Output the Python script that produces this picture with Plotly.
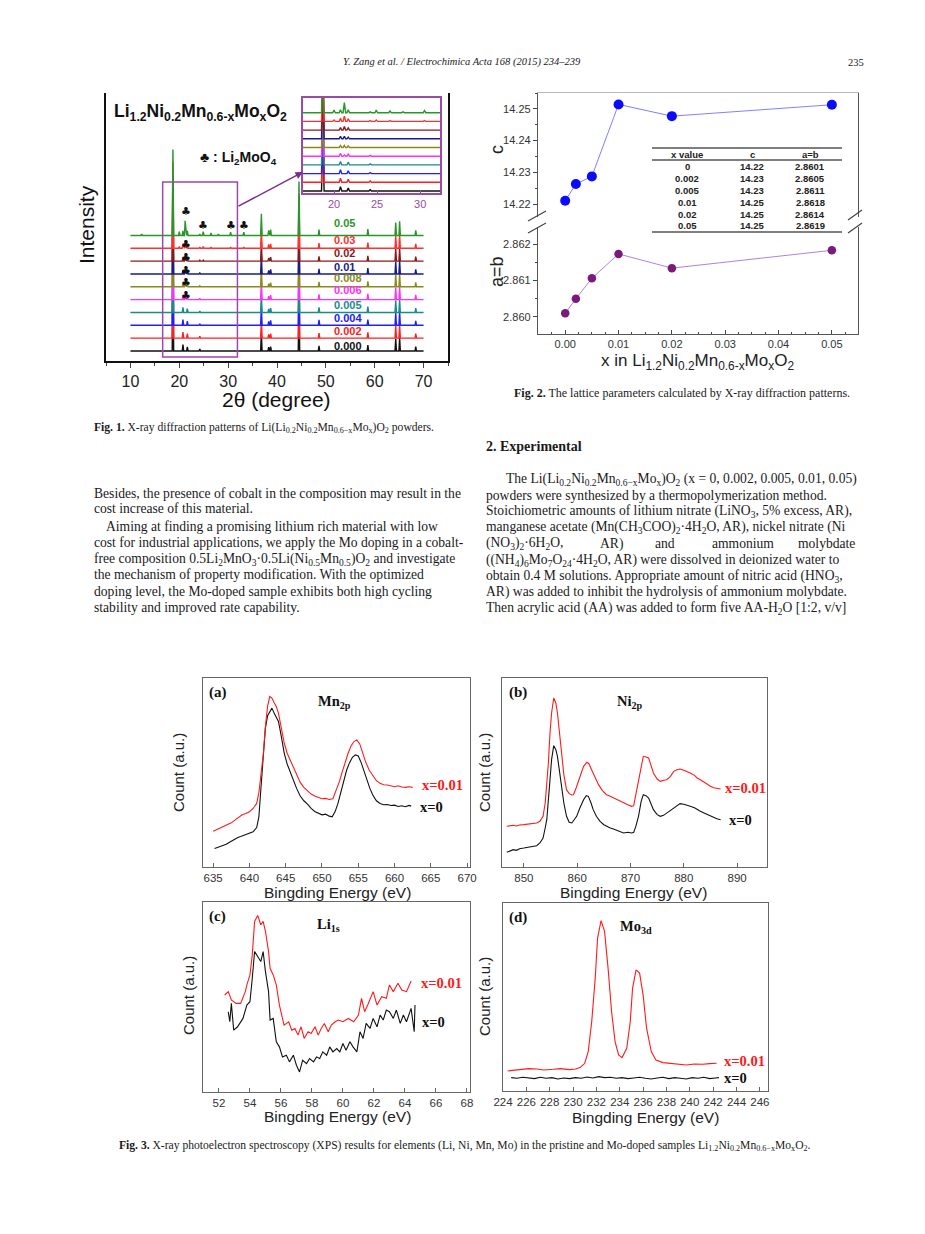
import plotly.graph_objects as go

# the page body adds an 8 px margin; the figure is sized/placed to compensate
OFF = 8
W, H = 925 - OFF, 1234 - OFF


def px(x):
    return (x - OFF) / W


def py(y):
    return 1 - (y - OFF) / H


# ======================= DATA =======================
# ---- Fig. 1 : XRD patterns (peak positions / heights, in units of the stacking step)
xrd_labels = ["0.000", "0.002", "0.004", "0.005", "0.006", "0.008", "0.01", "0.02", "0.03", "0.05"]
xrd_peak_2theta = [12.3, 18.7, 20.0, 20.75, 21.2, 21.65, 24.2, 24.9, 26.5, 28.0, 30.5, 33.2,
                   36.8, 38.3, 38.7, 44.5, 48.6, 58.6, 64.3, 65.1, 68.4]
xrd_h_0000 = [0, 6.7, 0, 0.5, 0, 0.33, 0.15, 0, 0, 0.05, 0, 0, 1.4, 0.3, 0.35, 4.2, 0.4, 0.45, 0.95, 1.0, 0.35]
xrd_h_0002 = [0, 6.7, 0, 0.48, 0, 0.35, 0.15, 0, 0, 0.05, 0, 0, 1.45, 0.3, 0.35, 4.2, 0.4, 0.45, 0.95, 1.0, 0.35]
xrd_h_0004 = [0, 6.7, 0, 0.45, 0, 0.33, 0.12, 0, 0, 0.04, 0, 0, 1.45, 0.3, 0.38, 4.2, 0.42, 0.45, 0.95, 1.05, 0.35]
xrd_h_0005 = [0, 6.7, 0, 0.4, 0, 0.3, 0.12, 0, 0, 0.04, 0, 0, 1.45, 0.28, 0.35, 4.2, 0.4, 0.45, 0.95, 1.0, 0.35]
xrd_h_0006 = [0, 6.7, 0, 0.35, 0.15, 0.25, 0.1, 0, 0, 0, 0, 0, 1.45, 0.28, 0.35, 4.2, 0.42, 0.45, 0.95, 1.0, 0.38]
xrd_h_0008 = [0, 6.7, 0, 0.22, 0.25, 0.18, 0.08, 0, 0, 0, 0, 0, 1.45, 0.25, 0.32, 4.2, 0.38, 0.42, 0.95, 1.0, 0.35]
xrd_h_001 = [0, 6.7, 0, 0.3, 0.3, 0.2, 0.08, 0, 0, 0, 0, 0, 1.5, 0.28, 0.35, 4.2, 0.4, 0.45, 0.95, 1.05, 0.35]
xrd_h_002 = [0, 6.7, 0, 0.3, 0.42, 0.25, 0.08, 0.08, 0, 0, 0, 0, 1.5, 0.25, 0.32, 4.2, 0.38, 0.42, 0.95, 1.0, 0.35]
xrd_h_003 = [0, 6.7, 0.15, 0.35, 0.6, 0.3, 0.1, 0.15, 0.1, 0.05, 0.1, 0.1, 1.55, 0.3, 0.35, 4.2, 0.4, 0.45, 0.95, 1.05, 0.35]
xrd_h_005 = [0.1, 6.7, 0.3, 0.35, 1.15, 0.35, 0.1, 0.3, 0.2, 0.1, 0.25, 0.25, 1.7, 0.4, 0.45, 4.2, 0.45, 0.5, 1.0, 1.1, 0.4]
xrd_heights = [xrd_h_0000, xrd_h_0002, xrd_h_0004, xrd_h_0005, xrd_h_0006,
               xrd_h_0008, xrd_h_001, xrd_h_002, xrd_h_003, xrd_h_005]
xrd_scan_range = [10.0, 70.0]
li2moo4_marks_2theta = [21.3, 24.9, 30.5, 33.2]
xrd_x_ticks = [10, 20, 30, 40, 50, 60, 70]
inset_x_ticks = [20, 25, 30]

# ---- Fig. 2 : lattice parameters
lattice_x = [0, 0.002, 0.005, 0.01, 0.02, 0.05]
lattice_c = [14.2210, 14.2263, 14.2287, 14.2514, 14.2477, 14.2513]
lattice_ab = [2.8601, 2.8605, 2.86106, 2.86173, 2.86134, 2.86183]
table_header = ["x value", "c", "a=b"]
table_x = ["0", "0.002", "0.005", "0.01", "0.02", "0.05"]
table_c = ["14.22", "14.23", "14.23", "14.25", "14.25", "14.25"]
table_ab = ["2.8601", "2.8605", "2.8611", "2.8618", "2.8614", "2.8619"]

# ---- Fig. 3 : XPS spectra (binding energy eV, counts a.u.)
mn2p_x0 = [(635.2, 65), (635.6, 68), (636.0, 72), (636.4, 74), (636.8, 78), (637.2, 83), (637.6, 88),
           (638.0, 94), (638.4, 98), (638.8, 101), (639.2, 104), (639.6, 107), (640.0, 110), (640.5, 115),
           (641.0, 128), (641.3, 160), (641.6, 250), (641.9, 350), (642.2, 425), (642.5, 462), (642.8, 475),
           (643.1, 485), (643.4, 470), (643.7, 455), (644.0, 445), (644.4, 400), (644.8, 350), (645.2, 318),
           (645.6, 295), (646.0, 272), (646.5, 245), (647.0, 222), (647.5, 208), (648.0, 198), (648.5, 185),
           (649.0, 176), (649.5, 170), (650.0, 166), (650.5, 168), (651.0, 162), (651.4, 160), (651.8, 175),
           (652.2, 200), (652.6, 235), (653.0, 270), (653.4, 300), (653.8, 322), (654.2, 338), (654.6, 345),
           (655.0, 342), (655.4, 322), (655.8, 296), (656.2, 268), (656.6, 245), (657.0, 225), (657.5, 208),
           (658.0, 200), (658.5, 196), (659.0, 197), (659.5, 194), (660.0, 195), (660.5, 191), (661.0, 193),
           (661.5, 190), (662.0, 194), (662.3, 192)]
mn2p_x001 = [(635.0, 117), (635.5, 122), (636.0, 126), (636.5, 132), (637.0, 138), (637.5, 142), (638.0, 150),
             (638.5, 158), (639.0, 166), (639.5, 170), (640.0, 175), (640.5, 185), (641.0, 200), (641.3, 232),
             (641.6, 290), (641.9, 345), (642.2, 430), (642.5, 490), (642.8, 520), (643.1, 515), (643.4, 502),
             (643.7, 490), (644.0, 470), (644.4, 422), (644.8, 380), (645.2, 350), (645.6, 330), (646.0, 310),
             (646.5, 285), (647.0, 263), (647.5, 248), (648.0, 238), (648.5, 228), (649.0, 222), (649.5, 217),
             (650.0, 214), (650.5, 215), (651.0, 212), (651.5, 214), (652.0, 240), (652.4, 265), (652.8, 295),
             (653.2, 325), (653.6, 350), (654.0, 372), (654.4, 385), (654.8, 390), (655.2, 378), (655.6, 352),
             (656.0, 325), (656.5, 300), (657.0, 282), (657.5, 268), (658.0, 260), (658.5, 256), (659.0, 255),
             (659.5, 252), (660.0, 250), (660.5, 253), (661.0, 249), (661.5, 248), (662.0, 250), (662.5, 248)]
ni2p_x0 = [(846.8, 52), (847.4, 55), (848.0, 60), (848.6, 58), (849.2, 63), (850.0, 65), (850.8, 67), (851.6, 70),
           (852.4, 72), (853.0, 80), (853.6, 95), (854.0, 125), (854.3, 150), (854.6, 210), (854.9, 270),
           (855.2, 330), (855.6, 372), (856.0, 360), (856.3, 340), (856.7, 290), (857.1, 240), (857.5, 200),
           (858.0, 160), (858.5, 142), (859.0, 140), (859.5, 150), (859.9, 160), (860.5, 185), (861.2, 210),
           (861.7, 222), (862.1, 220), (862.6, 200), (863.0, 180), (863.6, 160), (864.3, 145), (865.0, 135),
           (865.5, 130), (866.2, 125), (866.8, 122), (867.5, 118), (868.0, 113), (868.7, 110), (869.5, 112),
           (870.2, 110), (870.6, 112), (871.0, 130), (871.5, 160), (872.0, 205), (872.4, 225), (872.9, 222),
           (873.4, 215), (873.8, 198), (874.3, 180), (875.0, 165), (875.6, 160), (876.2, 163), (876.8, 170),
           (877.5, 178), (878.1, 185), (878.7, 192), (879.3, 198), (880.0, 196), (880.6, 194), (881.2, 190),
           (882.0, 186), (882.5, 180), (883.1, 175), (883.8, 170), (884.4, 166), (885.0, 160), (885.6, 156),
           (886.2, 153), (886.9, 150)]
ni2p_x001 = [(846.8, 130), (847.4, 132), (848.0, 133), (848.6, 131), (849.2, 134), (850.0, 135), (850.8, 137),
             (851.6, 138), (852.4, 140), (853.0, 145), (853.6, 160), (854.0, 200), (854.3, 250), (854.6, 320),
             (854.9, 410), (855.2, 470), (855.6, 515), (856.0, 500), (856.3, 470), (856.7, 410), (857.1, 340),
             (857.5, 285), (858.0, 240), (858.5, 228), (859.0, 224), (859.3, 225), (859.8, 245), (860.5, 280),
             (861.2, 310), (861.8, 322), (862.2, 318), (862.7, 300), (863.3, 278), (864.0, 255), (864.7, 238),
             (865.5, 225), (866.2, 220), (866.8, 215), (867.5, 210), (868.2, 205), (868.7, 200), (869.5, 195),
             (870.2, 190), (870.6, 192), (871.0, 225), (871.5, 270), (872.0, 315), (872.4, 340), (872.9, 338),
             (873.4, 335), (873.8, 315), (874.3, 290), (875.0, 272), (875.6, 265), (876.2, 268), (876.8, 270),
             (877.5, 280), (878.1, 295), (878.7, 300), (879.3, 302), (880.0, 298), (880.6, 295), (881.2, 290),
             (882.0, 283), (882.5, 275), (883.1, 270), (883.8, 262), (884.4, 256), (885.0, 250), (885.6, 246),
             (886.2, 244), (886.9, 242)]
li1s_x001 = [(52.37, 300), (52.6, 310), (52.8, 285), (53.1, 275), (53.4, 275), (53.7, 310), (53.8, 330),
             (54.0, 360), (54.15, 420), (54.3, 520), (54.5, 538), (54.7, 510), (54.85, 520), (55.0, 490),
             (55.2, 430), (55.3, 380), (55.5, 360), (55.7, 330), (55.9, 270), (56.2, 210), (56.5, 220),
             (56.7, 195), (56.9, 200), (57.1, 180), (57.3, 205), (57.5, 170), (57.75, 190), (57.95, 185),
             (58.2, 205), (58.4, 180), (58.6, 200), (58.8, 215), (59.05, 190), (59.25, 210), (59.5, 220),
             (59.7, 225), (60.0, 220), (60.35, 230), (60.7, 220), (61.0, 240), (61.2, 290), (61.4, 250),
             (61.6, 270), (61.95, 310), (62.2, 270), (62.5, 295), (62.8, 290), (63.0, 330), (63.25, 310),
             (63.55, 335), (63.8, 315), (64.1, 310), (64.4, 342)]
li1s_x0 = [(52.6, 250), (52.7, 220), (52.8, 275), (52.95, 195), (53.2, 205), (53.55, 230), (53.8, 270),
           (54.0, 280), (54.15, 350), (54.3, 430), (54.5, 415), (54.7, 400), (54.85, 430), (55.0, 370),
           (55.2, 310), (55.3, 225), (55.5, 230), (55.7, 160), (55.9, 145), (56.1, 115), (56.35, 120),
           (56.55, 100), (56.8, 120), (57.0, 90), (57.2, 70), (57.4, 105), (57.65, 95), (57.85, 110),
           (58.1, 100), (58.3, 115), (58.5, 110), (58.7, 130), (58.95, 120), (59.15, 145), (59.35, 130),
           (59.6, 140), (59.8, 130), (60.0, 155), (60.2, 135), (60.45, 160), (60.65, 145), (60.9, 130),
           (61.1, 190), (61.3, 170), (61.5, 215), (61.75, 200), (61.95, 230), (62.2, 205), (62.4, 240),
           (62.6, 225), (62.8, 255), (63.0, 250), (63.25, 230), (63.45, 255), (63.7, 215), (63.9, 240),
           (64.1, 220), (64.4, 260), (64.6, 190), (64.65, 270)]
mo3d_x001 = [(224.4, 72), (225.0, 75), (225.4, 76), (226.2, 79), (226.9, 78), (227.5, 75), (228.3, 77),
             (228.9, 79), (229.7, 76), (230.2, 78), (230.6, 82), (231.0, 95), (231.3, 130), (231.6, 220),
             (231.9, 350), (232.1, 470), (232.4, 522), (232.7, 490), (233.0, 380), (233.3, 250), (233.6, 160),
             (233.9, 120), (234.2, 112), (234.6, 140), (234.9, 220), (235.1, 320), (235.4, 375), (235.7, 365),
             (236.0, 300), (236.3, 200), (236.7, 130), (237.1, 105), (237.7, 97), (238.2, 95), (238.6, 93),
             (239.2, 91), (239.7, 90), (240.4, 93), (241.1, 92), (241.7, 94), (242.3, 95)]
mo3d_x0 = [(224.7, 52), (225.2, 50), (225.7, 53), (226.2, 51), (226.7, 49), (227.2, 53), (227.7, 50),
           (228.2, 52), (228.7, 48), (229.2, 51), (229.7, 49), (230.2, 52), (230.7, 50), (231.2, 54),
           (231.7, 51), (232.2, 55), (232.7, 52), (233.2, 53), (233.7, 50), (234.2, 52), (234.7, 49),
           (235.2, 51), (235.7, 53), (236.2, 50), (236.7, 48), (237.2, 51), (237.7, 53), (238.2, 49),
           (238.7, 52), (239.2, 50), (239.7, 48), (240.2, 52), (240.7, 50), (241.2, 53), (241.7, 49),
           (242.2, 51), (242.5, 52)]

# ======================= STYLE =======================
xrd_colors = ["#111111", "#ff2020", "#2020ff", "#1a8a8a", "#ff30ff", "#8a8a1a",
              "#1a1a8a", "#8a1a1a", "#ff3030", "#2a952a"]
xrd_label_y = [346, 331, 318, 305, 290, 278, 267, 253, 240, 223]
PURPLE = "#9b4aa8"
SANS = "Liberation Sans"
SERIF = "Liberation Serif"
BODY = 13.6

fig = go.Figure()
ann = []
shapes = []


def text(x, y, s, size=12.3, family=SERIF, color="#1a1a1a", anchor="left", angle=0, yanchor="middle"):
    ann.append(dict(x=px(x), y=py(y), xref="paper", yref="paper", text=s, showarrow=False,
                    xanchor=anchor, yanchor=yanchor, textangle=angle,
                    font=dict(family=family, size=size, color=color)))


def pline(x0, y0, x1, y1, color="#444", width=1.2):
    shapes.append(dict(type="line", xref="paper", yref="paper", x0=px(x0), y0=py(y0),
                       x1=px(x1), y1=py(y1), line=dict(color=color, width=width)))


# ---------------- Fig. 1 traces ----------------
def xrd_profile(heights, offset, w=0.15):
    xs, ys = [xrd_scan_range[0]], [offset]
    for p, h in zip(xrd_peak_2theta, heights):
        if h <= 0:
            continue
        xs += [p - w, p, p + w]
        ys += [offset, offset + h, offset]
    xs.append(xrd_scan_range[1])
    ys.append(offset)
    return xs, ys


for i, (lab, hts) in enumerate(zip(xrd_labels, xrd_heights)):
    xs, ys = xrd_profile(hts, i)
    for xa, ya in (("x", "y"), ("x2", "y2")):
        fig.add_trace(go.Scatter(x=xs, y=ys, mode="lines", xaxis=xa, yaxis=ya,
                                 line=dict(color=xrd_colors[i], width=1.4), showlegend=False,
                                 hoverinfo="skip"))
    text(332, xrd_label_y[i], f"<b>{lab}</b>", size=11, family=SANS, color=xrd_colors[i])

# Li2MoO4 markers
club_y = [10.9, 8.3, 7.3, 6.3, 5.3, 4.3]
for yv in club_y:
    ann.append(dict(x=li2moo4_marks_2theta[0], y=yv, xref="x", yref="y", text="♣", showarrow=False,
                    font=dict(family="DejaVu Sans", size=11, color="#111")))
for xv in li2moo4_marks_2theta[1:]:
    ann.append(dict(x=xv, y=9.8, xref="x", yref="y", text="♣", showarrow=False,
                    font=dict(family="DejaVu Sans", size=11, color="#111")))

# box and arrow toward the inset
shapes.append(dict(type="rect", xref="x", yref="paper", x0=16.6, x1=31.9, y0=py(357), y1=py(182),
                   line=dict(color=PURPLE, width=1.5)))
ann.append(dict(x=px(303), y=py(172), ax=237 - 303, ay=207 - 172, xref="paper", yref="paper",
                axref="pixel", ayref="pixel", text="", showarrow=True, arrowhead=2, arrowsize=1,
                arrowwidth=1.5, arrowcolor="#7a2a8a"))

text(112, 113, "<b>Li<sub>1.2</sub>Ni<sub>0.2</sub>Mn<sub>0.6-x</sub>Mo<sub>x</sub>O<sub>2</sub></b>",
     size=17.5, family=SANS, color="#111")
text(198, 158, "<b>♣ : Li<sub>2</sub>MoO<sub>4</sub></b>", size=14, family=SANS, color="#111")
text(86, 225, "Intensity", size=21, family=SANS, color="#111", anchor="center", angle=-90)
text(276, 399, "2θ (degree)", size=21, family=SANS, color="#111", anchor="center")

# ---------------- Fig. 2 traces ----------------
fig.add_trace(go.Scatter(x=lattice_x, y=lattice_c, mode="lines+markers", xaxis="x3", yaxis="y3",
                         line=dict(color="#8080ff", width=1), marker=dict(color="#0a0aff", size=10),
                         showlegend=False))
fig.add_trace(go.Scatter(x=lattice_x, y=lattice_ab, mode="lines+markers", xaxis="x4", yaxis="y4",
                         line=dict(color="#b080e8", width=1), marker=dict(color="#7a1a7a", size=8.5),
                         showlegend=False))

# table
for yy in (148, 160, 232):
    pline(652, yy, 842, yy, color="#555", width=1.6)
col_x = [687, 752, 810]
for cx, h in zip(col_x, table_header):
    text(cx, 154, f"<b>{h}</b>", size=9.5, family=SANS, anchor="center", color="#222")
row_y = [166, 178, 190, 202, 214, 226]
for ry, a, b, c in zip(row_y, table_x, table_c, table_ab):
    for cx, s in zip(col_x, (a, b, c)):
        text(cx, ry, f"<b>{s}</b>", size=9.5, family=SANS, anchor="center", color="#222")

# axis break marks
pline(528, 221, 546, 211, color="#444", width=1.2)
pline(528, 233, 546, 223, color="#444", width=1.2)
pline(848, 220, 862, 210, color="#444", width=1.2)
pline(848, 233, 862, 223, color="#444", width=1.2)

text(497, 150, "c", size=18, family=SANS, color="#222", anchor="center", angle=-90)
text(497, 272, "a=b", size=18, family=SANS, color="#222", anchor="center", angle=-90)
text(697, 362, "x in Li<sub>1.2</sub>Ni<sub>0.2</sub>Mn<sub>0.6-x</sub>Mo<sub>x</sub>O<sub>2</sub>",
     size=17, family=SANS, color="#222", anchor="center")

# ---------------- Fig. 3 traces ----------------
xps_sets = [
    ("x5", "y5", mn2p_x0, mn2p_x001),
    ("x6", "y6", ni2p_x0, ni2p_x001),
    ("x7", "y7", li1s_x0, li1s_x001),
    ("x8", "y8", mo3d_x0, mo3d_x001),
]
for xa, ya, blk, red in xps_sets:
    for data, col in ((blk, "#111111"), (red, "#ff1a1a")):
        fig.add_trace(go.Scatter(x=[d[0] for d in data], y=[d[1] for d in data], mode="lines",
                                 xaxis=xa, yaxis=ya, line=dict(color=col, width=1.1),
                                 showlegend=False, hoverinfo="skip"))

TNR = SERIF
panel_text = [
    ("(a)", "Mn<sub>2p</sub>", (207, 692), (334, 702), (420, 785), (418, 807)),
    ("(b)", "Ni<sub>2p</sub>", (507, 692), (630, 702), (723, 788), (727, 820)),
    ("(c)", "Li<sub>1s</sub>", (207, 916), (328, 925), (419, 983), (420, 1022)),
    ("(d)", "Mo<sub>3d</sub>", (507, 917), (636, 927), (722, 1061), (722, 1078)),
]
for lab, el, lp, ep, rp, bp in panel_text:
    text(lp[0], lp[1], f"<b>{lab}</b>", size=15, family=TNR, color="#111")
    text(ep[0], ep[1], f"<b>{el}</b>", size=14.5, family=TNR, color="#111", anchor="center")
    text(rp[0], rp[1], "<b>x=0.01</b>", size=14.5, family=TNR, color="#ff1a1a")
    text(bp[0], bp[1], "<b>x=0</b>", size=14.5, family=TNR, color="#111")

for (cx, cy) in ((178, 773), (484, 773), (189, 996), (484, 997)):
    text(cx, cy, "Count (a.u.)", size=15, family=SANS, color="#222", anchor="center", angle=-90)
for (cx, cy) in ((337, 892), (633, 892), (337, 1116), (645, 1117)):
    text(cx, cy, "Bingding Energy (eV)", size=15.5, family=SANS, color="#222", anchor="center")

# ---------------- page text ----------------
text(462, 62, "<i>Y. Zang et al. / Electrochimica Acta 168 (2015) 234–239</i>", size=10.5, anchor="center")
text(866, 62, "235", size=10.5, anchor="right")

text(92, 428, "<b>Fig. 1.</b> X-ray diffraction patterns of Li(Li<sub>0.2</sub>Ni<sub>0.2</sub>Mn<sub>0.6−x</sub>"
              "Mo<sub>x</sub>)O<sub>2</sub> powders.", size=11.6)
text(512, 393, "<b>Fig. 2.</b> The lattice parameters calculated by X-ray diffraction patterns.", size=12)
text(117, 1146, "<b>Fig. 3.</b> X-ray photoelectron spectroscopy (XPS) results for elements (Li, Ni, Mn, Mo) "
                "in the pristine and Mo-doped samples Li<sub>1.2</sub>Ni<sub>0.2</sub>Mn<sub>0.6−x</sub>"
                "Mo<sub>x</sub>O<sub>2</sub>.", size=11.6)

left_lines = [
    (92, 493, "Besides, the presence of cobalt in the composition may result in the"),
    (92, 509, "cost increase of this material."),
    (104, 526, "Aiming at finding a promising lithium rich material with low"),
    (92, 542, "cost for industrial applications, we apply the Mo doping in a cobalt-"),
    (92, 559, "free composition 0.5Li<sub>2</sub>MnO<sub>3</sub>·0.5Li(Ni<sub>0.5</sub>Mn<sub>0.5</sub>)O<sub>2</sub>"
              " and investigate"),
    (92, 575, "the mechanism of property modification. With the optimized"),
    (92, 591, "doping level, the Mo-doped sample exhibits both high cycling"),
    (92, 607, "stability and improved rate capability."),
]
for x0, y0, s in left_lines:
    text(x0, y0, s, size=BODY)

text(484, 447, "<b>2. Experimental</b>", size=14)
right_lines = [
    (504, 479, "The Li(Li<sub>0.2</sub>Ni<sub>0.2</sub>Mn<sub>0.6−x</sub>Mo<sub>x</sub>)O<sub>2</sub>"
               " (x = 0, 0.002, 0.005, 0.01, 0.05)"),
    (484, 495, "powders were synthesized by a thermopolymerization method."),
    (484, 511, "Stoichiometric amounts of lithium nitrate (LiNO<sub>3</sub>, 5% excess, AR),"),
    (484, 527, "manganese acetate (Mn(CH<sub>3</sub>COO)<sub>2</sub>·4H<sub>2</sub>O, AR), nickel nitrate (Ni"),
    (484, 560, "((NH<sub>4</sub>)<sub>6</sub>Mo<sub>7</sub>O<sub>24</sub>·4H<sub>2</sub>O, AR) were dissolved in"
               " deionized water to"),
    (484, 576, "obtain 0.4 M solutions. Appropriate amount of nitric acid (HNO<sub>3</sub>,"),
    (484, 592, "AR) was added to inhibit the hydrolysis of ammonium molybdate."),
    (484, 608, "Then acrylic acid (AA) was added to form five AA-H<sub>2</sub>O [1:2, v/v]"),
]
for x0, y0, s in right_lines:
    text(x0, y0, s, size=BODY)
for x0, s in ((484, "(NO<sub>3</sub>)<sub>2</sub>·6H<sub>2</sub>O,"), (598, "AR)"), (653, "and"),
              (710, "ammonium")):
    text(x0, 544, s, size=BODY)
text(857, 544, "molybdate", size=BODY, anchor="right")

# ======================= AXES =======================
base_axis = dict(showgrid=False, zeroline=False)
layout_axes = {}
layout_axes["xaxis"] = dict(base_axis, domain=[px(106), px(448)], anchor="y", range=[5, 75],
                            tickvals=xrd_x_ticks, ticks="outside", ticklen=5, tickwidth=1.3,
                            showline=True, linecolor="#111", linewidth=1.5,
                            minor=dict(ticks="outside", ticklen=3, dtick=5, tick0=5),
                            tickfont=dict(family=SANS, size=16, color="#222"))
layout_axes["yaxis"] = dict(base_axis, domain=[py(361), py(93)], anchor="x", range=[-0.78, 20.1],
                            showticklabels=False, ticks="", showline=True, mirror=True,
                            linecolor="#111", linewidth=1.5)
layout_axes["xaxis2"] = dict(base_axis, domain=[px(303), px(440)], anchor="y2", range=[16.4, 32.3],
                             tickvals=inset_x_ticks, ticks="inside", ticklen=3, tickcolor=PURPLE,
                             showline=True, mirror=True, linecolor=PURPLE, linewidth=1.5,
                             tickfont=dict(family=SANS, size=11, color=PURPLE))
layout_axes["yaxis2"] = dict(base_axis, domain=[py(193), py(98)], anchor="x2", range=[-0.23, 10.69],
                             showticklabels=False, ticks="", showline=True, mirror=True,
                             linecolor=PURPLE, linewidth=1.5)
xr2 = [-0.0051, 0.0549]
layout_axes["xaxis3"] = dict(base_axis, domain=[px(538), px(858)], anchor="y3", range=xr2, side="top",
                             showticklabels=False, ticks="", showline=True, linecolor="#bbbbbb",
                             linewidth=1)
layout_axes["yaxis3"] = dict(base_axis, domain=[py(217), py(93)], anchor="x3", range=[14.2159, 14.2550],
                             dtick=0.01, tick0=14.22, tickformat=".2f", ticks="outside", ticklen=4,
                             showline=True, mirror=True, linecolor="#555", linewidth=1.3,
                             minor=dict(ticks="outside", ticklen=2, dtick=0.005, tick0=14.22),
                             tickfont=dict(family=SANS, size=11, color="#333"))
layout_axes["xaxis4"] = dict(base_axis, domain=[px(538), px(858)], anchor="y4", range=xr2,
                             dtick=0.01, tick0=0, tickformat=".2f", ticks="inside", ticklen=4,
                             showline=True, linecolor="#555", linewidth=1.3,
                             minor=dict(ticks="inside", ticklen=2, dtick=0.0025, tick0=0),
                             tickfont=dict(family=SANS, size=11, color="#333"))
layout_axes["yaxis4"] = dict(base_axis, domain=[py(334), py(227)], anchor="x4", range=[2.85953, 2.86247],
                             dtick=0.001, tick0=2.860, tickformat=".3f", ticks="outside", ticklen=4,
                             showline=True, mirror=True, linecolor="#555", linewidth=1.3,
                             minor=dict(ticks="outside", ticklen=2, dtick=0.0005, tick0=2.860),
                             tickfont=dict(family=SANS, size=11, color="#333"))
xps_axes = [
    (5, (203, 470), (867, 678), [633.6, 670.4], 5, 635, [10, 575]),
    (6, (502, 767), (867, 678), [845.9, 895.6], 10, 850, [8, 575]),
    (7, (203, 470), (1092, 902), [50.97, 68.2], 2, 52, [10, 578]),
    (8, (503, 768), (1091, 903), [224, 246.7], 2, 224, [12, 575]),
]
for n, xd, yd, xr, dt, t0, yr in xps_axes:
    layout_axes[f"xaxis{n}"] = dict(base_axis, domain=[px(xd[0]), px(xd[1])], anchor=f"y{n}", range=xr,
                                    dtick=dt, tick0=t0, ticks="inside", ticklen=4, tickcolor="#666",
                                    showline=True, mirror=True, linecolor="#666", linewidth=1.2,
                                    tickfont=dict(family=SANS, size=11.5, color="#333"))
    layout_axes[f"yaxis{n}"] = dict(base_axis, domain=[py(yd[0]), py(yd[1])], anchor=f"x{n}", range=yr,
                                    showticklabels=False, ticks="", showline=True, mirror=True,
                                    linecolor="#666", linewidth=1.2)

fig.update_layout(
    width=W, height=H, margin=dict(l=0, r=0, t=0, b=0),
    paper_bgcolor="white", plot_bgcolor="white", template="none",
    showlegend=False, annotations=ann, shapes=shapes, **layout_axes,
)

fig.write_html("out.html")
